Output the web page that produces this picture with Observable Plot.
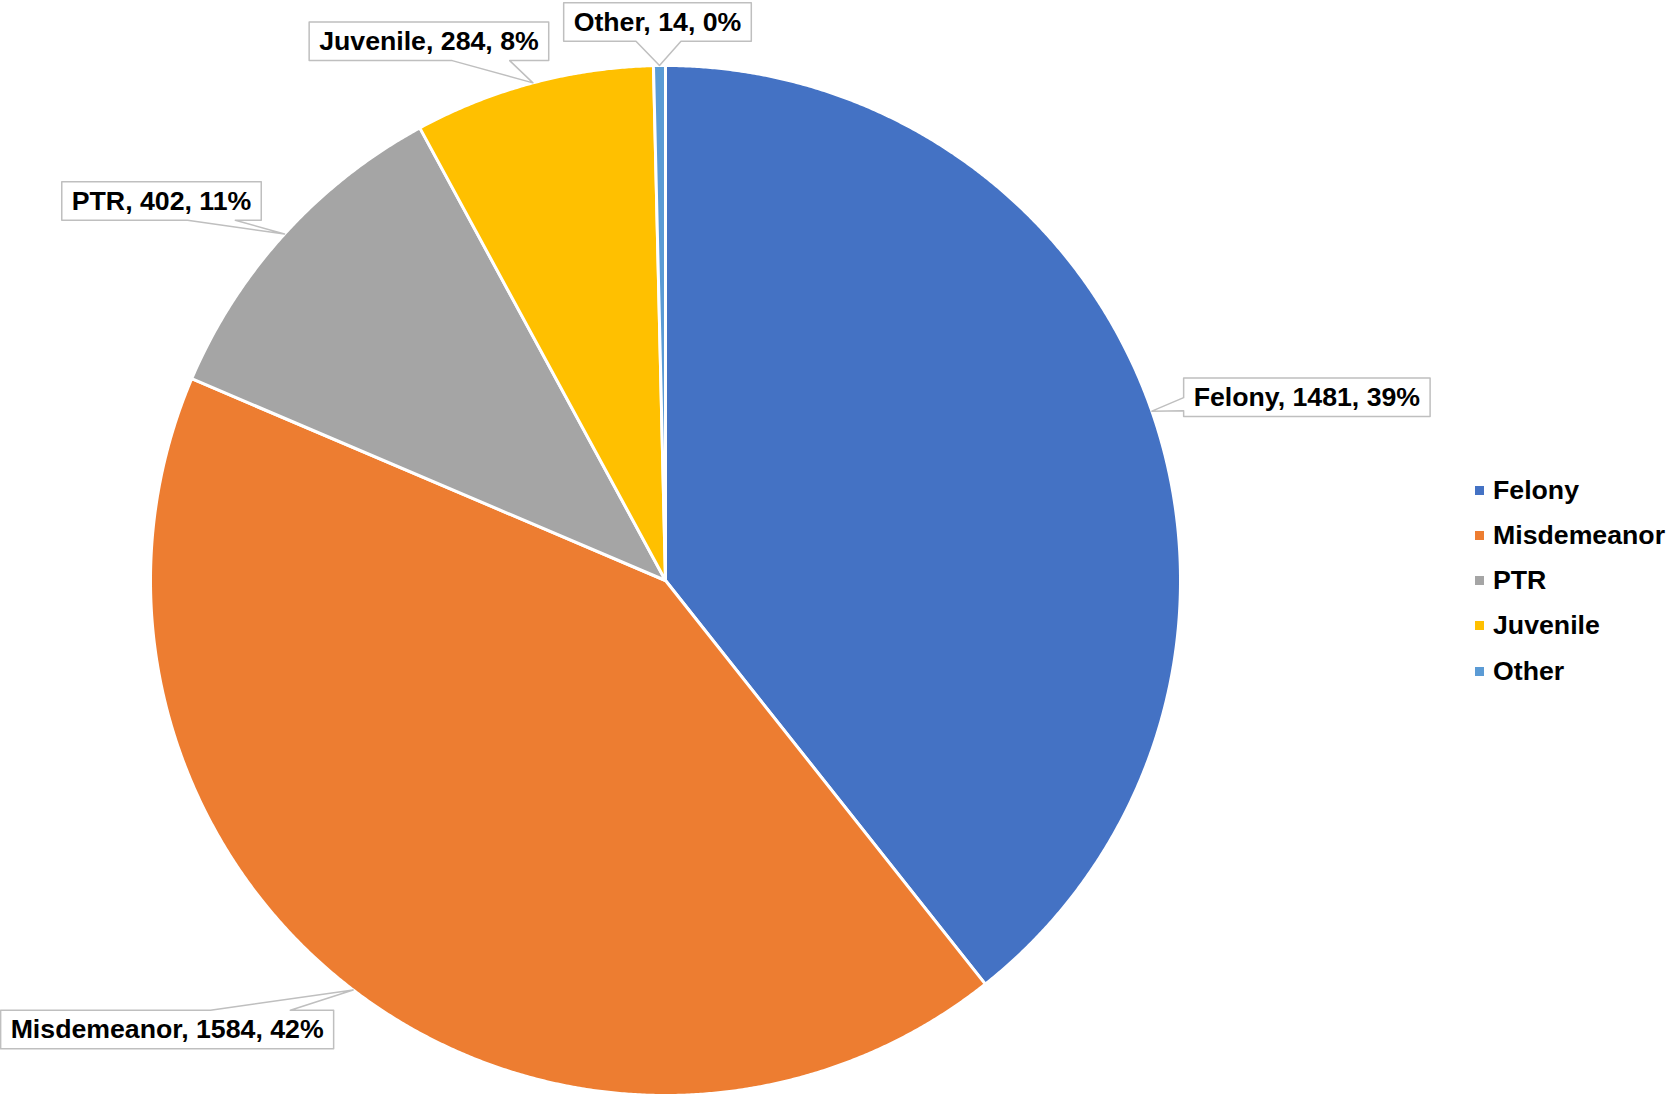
<!DOCTYPE html>
<html><head><meta charset="utf-8">
<script src="https://cdn.jsdelivr.net/npm/d3@7"></script>
<script src="https://cdn.jsdelivr.net/npm/@observablehq/plot@0.6"></script>
<style>
html,body{margin:0;padding:0;background:#fff;}
#wrap{position:relative;width:1669px;height:1094px;overflow:hidden;}
#legend{position:absolute;left:1475px;top:467.4px;font:bold 26.7px "Liberation Sans",Arial,sans-serif;color:#000;}
.row{height:45.3px;display:flex;align-items:center;white-space:nowrap;}
.sw{width:9px;height:9px;margin-right:9px;flex:none;}
</style></head><body><div id="wrap"></div>
<script>
// ---- data ----
const categories = ["Felony", "Misdemeanor", "PTR", "Juvenile", "Other"];
const values = [1481, 1584, 402, 284, 14];
const colors = ["#4472C4", "#ED7D31", "#A5A5A5", "#FFC000", "#5B9BD5"];

// ---- layout (pixel offsets of each callout box centre from its slice's edge point) ----
const labelOffsets = [[155, -14], [-186, 39.5], [-123, -33], [-104, -41.5], [-2, -43.5]];
const FONT_SIZE = 26.7;
const FONT = `bold ${FONT_SIZE}px "Liberation Sans", Arial, sans-serif`;
const XR = [150, 1180], YR = [1095, 65];
const k = 2 / (XR[1] - XR[0]); // data units per pixel

const total = d3.sum(values);
const pie = d3.pie().sort(null).value(d => d)(values);

// slice polygons in unit-circle data space
const slicePts = [];
pie.forEach((p, i) => {
  const n = Math.max(2, Math.ceil((p.endAngle - p.startAngle) / (Math.PI / 720)));
  slicePts.push({cat: categories[i], x: 0, y: 0});
  for (let j = 0; j <= n; j++) {
    const a = p.startAngle + (p.endAngle - p.startAngle) * j / n;
    slicePts.push({cat: categories[i], x: Math.sin(a), y: Math.cos(a)});
  }
});

// label texts and callouts
const ctx = document.createElement("canvas").getContext("2d");
ctx.font = FONT;
const labels = [];
const callPts = [];
pie.forEach((p, i) => {
  const m = (p.startAngle + p.endAngle) / 2;
  const tx0 = Math.sin(m), ty0 = Math.cos(m);
  const [ox, oy] = labelOffsets[i];
  const text = `${categories[i]}, ${values[i]}, ${Math.round(values[i] / total * 100)}%`;
  const w = ctx.measureText(text).width + 20, h = 38.5;
  const hw = w / 2, hh = h / 2;
  labels.push({text, x: tx0 + ox * k, y: ty0 - oy * k});
  const tx = -ox, ty = -oy; // tip relative to box centre (px, y down)
  const clamp = (v, a, b) => Math.max(a, Math.min(b, v));
  let verts = [];
  const TL = [-hw, -hh], TR = [hw, -hh], BR = [hw, hh], BL = [-hw, hh];
  if (ty > hh) {
    const bw = Math.min(0.12 * w, 30), bc = clamp(clamp(tx, -hw, hw) / 2, -hw + bw, hw - bw);
    verts = [TL, TR, BR, [bc + bw, hh], [tx, ty], [bc - bw, hh], BL];
  } else if (ty < -hh) {
    const bw = Math.min(0.12 * w, 40), bc = clamp(clamp(tx, -hw, hw) / 2, -hw + bw, hw - bw);
    verts = [TL, [bc - bw, -hh], [tx, ty], [bc + bw, -hh], TR, BR, BL];
  } else if (tx < 0) {
    const bw = 0.17 * h, bc = clamp(clamp(ty, -hh, hh) / 2, -hh + bw, hh - bw);
    verts = [TL, TR, BR, BL, [-hw, bc + bw], [tx, ty], [-hw, bc - bw]];
  } else {
    const bw = 0.17 * h, bc = clamp(clamp(ty, -hh, hh) / 2, -hh + bw, hh - bw);
    verts = [TL, TR, [hw, bc - bw], [tx, ty], [hw, bc + bw], BR, BL];
  }
  verts.forEach(([px, py]) => callPts.push({cat: categories[i], x: tx0 + (ox + px) * k, y: ty0 - (oy + py) * k}));
});

const chart = Plot.plot({
  width: 1669,
  height: 1094,
  style: {background: "#fff", overflow: "visible"},
  x: {domain: [-1, 1], range: XR, axis: null},
  y: {domain: [-1, 1], range: YR, axis: null},
  color: {domain: categories, range: colors},
  marks: [
    Plot.line(slicePts, {x: "x", y: "y", z: "cat", fill: "cat", stroke: "#fff", strokeWidth: 3, strokeLinejoin: "round", curve: "linear-closed"}),
    Plot.line(callPts, {x: "x", y: "y", z: "cat", fill: "#fff", stroke: "#BFBFBF", strokeWidth: 1.5, curve: "linear-closed"}),
    Plot.text(labels, {x: "x", y: "y", text: "text", fontSize: FONT_SIZE, fontWeight: "bold", fontFamily: '"Liberation Sans", Arial, sans-serif', fill: "#000"})
  ]
});
const wrap = document.getElementById("wrap");
wrap.appendChild(chart);

// legend
const lg = document.createElement("div");
lg.id = "legend";
categories.forEach((c, i) => {
  const r = document.createElement("div");
  r.className = "row";
  r.innerHTML = `<span class="sw" style="background:${colors[i]}"></span><span>${c}</span>`;
  lg.appendChild(r);
});
wrap.appendChild(lg);
</script>
</body></html>
